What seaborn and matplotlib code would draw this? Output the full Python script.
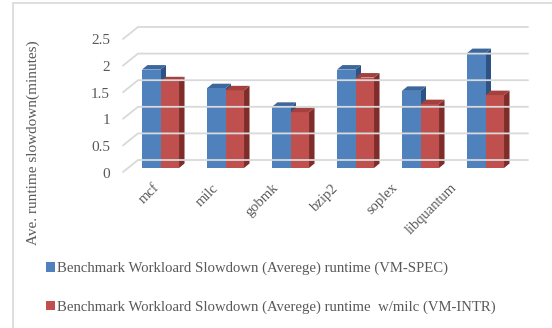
import numpy as np
import pandas as pd
import matplotlib
matplotlib.use("Agg")
import matplotlib.pyplot as plt
import matplotlib.transforms as mtransforms
from matplotlib.patches import Polygon, Rectangle
from matplotlib.lines import Line2D
import seaborn as sns

# benchmark data (average runtime slowdown, minutes)
benchmarks = ["mcf", "milc", "gobmk", "bzip2", "soplex", "libquantum"]
spec_runtime = [1.85, 1.50, 1.15, 1.85, 1.45, 2.16]
intr_runtime = [1.63, 1.46, 1.05, 1.70, 1.20, 1.37]
series_names = [
    "Benchmark Workloard Slowdown (Averege) runtime (VM-SPEC)",
    "Benchmark Workloard Slowdown (Averege) runtime  w/milc (VM-INTR)",
]
y_ticks = [0, 0.5, 1, 1.5, 2, 2.5]
y_tick_labels = ["0", "0.5", "1", "1.5", "2", "2.5"]

df = pd.DataFrame({
    "benchmark": benchmarks * 2,
    "runtime": spec_runtime + intr_runtime,
    "series": [series_names[0]] * len(benchmarks) + [series_names[1]] * len(benchmarks),
})

sns.set_theme(style="white")
plt.rcParams["font.family"] = ["Liberation Serif", "DejaVu Serif"]
text_color = "#595959"
grid_color = "#d9d9d9"

front_cols = ["#4f81bd", "#c0504d"]
top_cols = ["#3c679c", "#a4413e"]
side_cols = ["#2d5283", "#7e2d2b"]

W, H = 552, 328
fig = plt.figure(figsize=(W / 100, H / 100), dpi=100)
ax = fig.add_axes([128 / W, 1 - 168 / H, 390 / W, 133 / H])

sns.barplot(data=df, x="benchmark", y="runtime", hue="series",
            palette=front_cols, width=0.57, saturation=1, ax=ax,
            edgecolor="none", linewidth=0, zorder=3, legend=True)
ax.set_xlim(-0.5, len(benchmarks) - 0.5)
ax.set_ylim(0, 2.5)
for s in ax.spines.values():
    s.set_visible(False)
ax.set_xlabel("")
ax.set_ylabel("")
ax.grid(False)

# oblique depth offsets in pixels (display coordinates)
front_off = np.array([-5.0, -4.0])   # axis plane in front of bars
back_off = np.array([10.0, 8.0])     # back wall behind bars
bar_depth = np.array([5.5, 4.5])

fig.canvas.draw()
to_disp = ax.transData.transform
ident = mtransforms.IdentityTransform()

# back-wall gridlines with their slanted left-wall segment
x_left = ax.transAxes.transform((0, 0))[0]
x_right = ax.transAxes.transform((1, 0))[0]
for v in y_ticks:
    yd = to_disp((0, v))[1]
    pts = np.array([
        [x_left + front_off[0], yd + front_off[1]],
        [x_left + back_off[0], yd + back_off[1]],
        [x_right + back_off[0], yd + back_off[1]],
    ])
    fig.add_artist(Line2D(pts[:, 0], pts[:, 1], transform=ident,
                          color=grid_color, lw=1.3, zorder=0.5))

# 3D side and top faces for every bar
for ci, container in enumerate(ax.containers):
    for rect in container:
        x0, y0 = rect.get_x(), rect.get_y()
        x1, y1 = x0 + rect.get_width(), y0 + rect.get_height()
        br = to_disp((x1, y0))
        tl = to_disp((x0, y1)); tr = to_disp((x1, y1))
        side = [br, br + bar_depth, tr + bar_depth, tr]
        top = [tl, tr, tr + bar_depth, tl + bar_depth]
        ax.add_patch(Polygon(side, closed=True, transform=ident,
                             facecolor=side_cols[ci], edgecolor="none",
                             clip_on=False, zorder=2.5 + ci))
        ax.add_patch(Polygon(top, closed=True, transform=ident,
                             facecolor=top_cols[ci], edgecolor="none",
                             clip_on=False, zorder=2.5 + ci))

# y tick labels sit on the front plane
ax.set_yticks(y_ticks)
ax.set_yticklabels(y_tick_labels)
ax.tick_params(axis="y", length=0, pad=13, labelsize=11, labelcolor=text_color)
shift_y = mtransforms.ScaledTranslation(0, -0.045, fig.dpi_scale_trans)
for lab in ax.get_yticklabels():
    lab.set_transform(lab.get_transform() + shift_y)

# slanted category labels, slightly converging toward the front
ax.set_xticks(range(len(benchmarks)))
ax.set_xticklabels(benchmarks, rotation=45, ha="right", rotation_mode="anchor")
ax.tick_params(axis="x", length=0, pad=6, labelsize=10.5, labelcolor=text_color)
for i, lab in enumerate(ax.get_xticklabels()):
    dx = -(0.08 + 0.054 * i)
    lab.set_transform(lab.get_transform() +
                      mtransforms.ScaledTranslation(dx, -0.05, fig.dpi_scale_trans))

fig.text(33 / W, 1 - 143 / H, "Ave. runtime slowdown(minutes)", rotation=90,
         ha="center", va="center", fontsize=11, color=text_color)

# legend below the plot
handles, labels = ax.get_legend_handles_labels()
ax.get_legend().remove()
fig.legend(handles, labels, loc="upper left",
           bbox_to_anchor=(46 / W, 1 - 262 / H), frameon=False,
           fontsize=10.6, labelcolor=text_color, handlelength=0.62,
           handleheight=0.62, handletextpad=0.15, labelspacing=1.7,
           borderpad=0, borderaxespad=0)

# chart border
fig.add_artist(Rectangle((13 / W, -0.1), 1.2, 1 - 3 / H + 0.1,
                         transform=fig.transFigure, fill=False,
                         edgecolor="#d9d9d9", lw=1.2))

fig.savefig("out.png", dpi=100)
